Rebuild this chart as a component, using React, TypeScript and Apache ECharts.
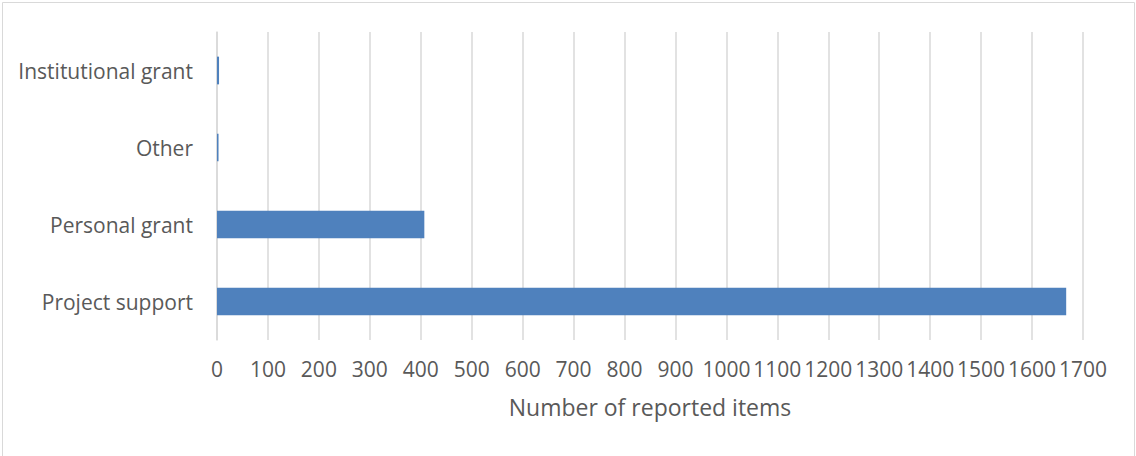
import React, { useEffect, useRef } from "react";
import * as echarts from "echarts";

const categories = ["Project support", "Personal grant", "Other", "Institutional grant"];
const values = [1667, 407, 3, 4];
const xMin = 0;
const xMax = 1700;
const xInterval = 100;
const xAxisName = "Number of reported items";

export default function App() {
  const ref = useRef<HTMLDivElement>(null);
  useEffect(() => {
    if (!ref.current) return;
    const chart = echarts.init(ref.current, null, { renderer: "svg" });
    const font = "'Open Sans', 'Liberation Sans', sans-serif";
    chart.setOption({
      animation: false,
      backgroundColor: "#ffffff",
      graphic: [
        {
          type: "rect",
          shape: { x: 2.5, y: 2.5, width: 1132, height: 470 },
          style: { fill: "none", stroke: "#d9d9d9", lineWidth: 1 },
          silent: true,
        },
      ],
      grid: { left: 217, right: 53, top: 32, bottom: 116, containLabel: false },
      xAxis: {
        type: "value",
        min: xMin,
        max: xMax,
        interval: xInterval,
        name: xAxisName,
        nameLocation: "middle",
        nameGap: 55,
        nameTextStyle: { color: "#595959", fontSize: 23, fontFamily: font },
        axisLine: { show: false },
        axisTick: { show: false },
        axisLabel: {
          color: "#595959",
          fontSize: 21,
          fontFamily: font,
          margin: 18,
          formatter: (v: number) => String(v),
        },
        splitLine: { show: true, lineStyle: { color: "#d9d9d9", width: 1.5 } },
      },
      yAxis: {
        type: "category",
        data: categories,
        axisLine: { show: true, lineStyle: { color: "#d9d9d9", width: 1.5 } },
        axisTick: { show: false },
        axisLabel: { color: "#595959", fontSize: 21, fontFamily: font, margin: 24 },
        splitLine: { show: false },
      },
      series: [
        {
          type: "bar",
          data: values,
          barCategoryGap: "64%",
          itemStyle: { color: "#4f81bd" },
        },
      ],
    });
    return () => chart.dispose();
  }, []);
  return (
    <div
      ref={ref}
      style={{ position: "fixed", left: 0, top: 0, width: 1136, height: 456 }}
    />
  );
}
